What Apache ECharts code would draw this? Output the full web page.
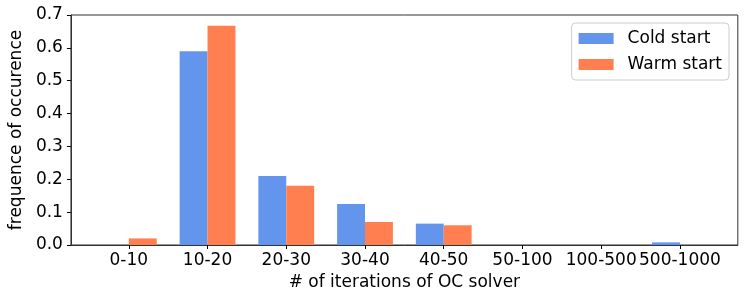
<!DOCTYPE html>
<html>
<head>
<meta charset="utf-8">
<script src="https://cdn.jsdelivr.net/npm/echarts@6/dist/echarts.min.js"></script>
<style>html,body{margin:0;padding:0;background:#fff;}#c{width:747px;height:299px;}</style>
</head>
<body>
<div id="c"></div>
<script>
const categories = ['0-10','10-20','20-30','30-40','40-50','50-100','100-500','500-1000'];
const coldStart = [0, 0.59, 0.21, 0.125, 0.065, 0, 0, 0.008];
const warmStart = [0.02, 0.667, 0.18, 0.07, 0.06, 0, 0, 0];
const yTicks = [0, 0.1, 0.2, 0.3, 0.4, 0.5, 0.6, 0.7];

const idx = categories.map((_, i) => i);
const font = 'DejaVu Sans';
const chart = echarts.init(document.getElementById('c'), null, {renderer: 'canvas'});
chart.setOption({
  animation: false,
  textStyle: {fontFamily: font},
  grid: {left: 63.5, right: 9.2, top: 15, bottom: 54, show: true, borderColor: '#333', borderWidth: 1, backgroundColor: 'transparent'},
  legend: {
    orient: 'vertical', right: 18, top: 23,
    icon: 'rect',
    itemWidth: 35, itemHeight: 11, itemGap: 9,
    padding: [7, 7, 7, 7],
    borderColor: '#ccc', borderWidth: 1, borderRadius: 4,
    textStyle: {fontFamily: font, fontSize: 17, color: '#000', padding: [0, 0, 0, 9]},
    data: ['Cold start', 'Warm start']
  },
  xAxis: {
    type: 'value', min: -0.735, max: 7.735,
    name: '# of iterations of OC solver', nameLocation: 'middle', nameGap: 23,
    nameTextStyle: {fontFamily: font, fontSize: 17, color: '#000'},
    axisLine: {show: true, onZero: false, lineStyle: {color: '#333'}},
    axisTick: {show: true, customValues: idx, length: 4, lineStyle: {color: '#000'}},
    axisLabel: {customValues: idx, margin: 7, fontFamily: font, fontSize: 17, color: '#000',
      formatter: v => categories[Math.round(v)] || ''},
    splitLine: {show: false}
  },
  yAxis: {
    type: 'value', min: 0, max: 0.7, interval: 0.1,
    name: 'frequence of occurence', nameLocation: 'middle', nameGap: 40,
    nameTextStyle: {fontFamily: font, fontSize: 17, color: '#000'},
    axisLine: {show: true, onZero: false, lineStyle: {color: '#333'}},
    axisTick: {show: true, length: 4, lineStyle: {color: '#000'}},
    axisLabel: {margin: 8, fontFamily: font, fontSize: 17, color: '#000',
      formatter: v => v.toFixed(1)},
    splitLine: {show: false}
  },
  series: [
    {name: 'Cold start', type: 'bar', barWidth: 27.9, barGap: '0%',
      itemStyle: {color: '#6495ED'},
      data: coldStart.map((v, i) => [i, v])},
    {name: 'Warm start', type: 'bar', barWidth: 27.9, barGap: '0%',
      itemStyle: {color: '#FF7F50'},
      data: warmStart.map((v, i) => [i, v])}
  ]
});
</script>
</body>
</html>
